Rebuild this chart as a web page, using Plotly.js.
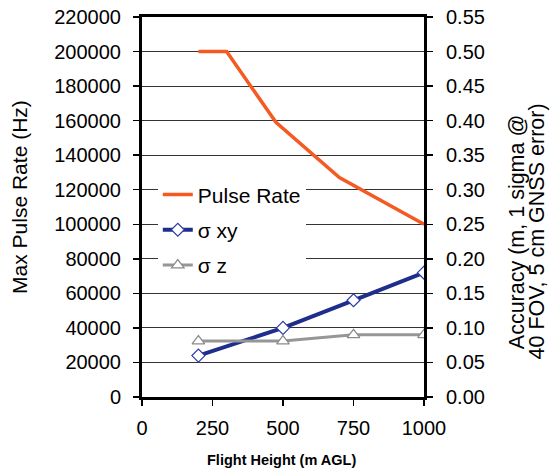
<!DOCTYPE html>
<html>
<head>
<meta charset="utf-8">
<script src="https://cdn.plot.ly/plotly-3.0.1.min.js"></script>
<style>
  html, body { margin: 0; padding: 0; background: #fff; }
  #chart { width: 554px; height: 473px; }
</style>
</head>
<body>
<div id="chart"></div>
<script>
// Data
const pulseHeights = [200, 300, 475, 700, 1000];
const pulseRate = [200000, 200000, 159000, 127000, 100000];
const accHeights = [200, 500, 750, 1000];
const sigmaXY = [0.06, 0.10, 0.14, 0.18];
const sigmaZ = [0.081, 0.081, 0.09, 0.09];
const xTicks = [0, 250, 500, 750, 1000];

const FONT = 'Liberation Sans, Arial, sans-serif';
const ORANGE = '#F55A23';
const BLUE = '#1F2E8C';
const GRAY = '#969696';

const traces = [
  {
    x: pulseHeights, y: pulseRate, name: 'Pulse Rate', type: 'scatter', mode: 'lines',
    line: { color: ORANGE, width: 3.5 }, yaxis: 'y', legendgroup: 'a'
  },
  {
    x: accHeights, y: sigmaXY, name: 'σ xy', type: 'scatter', mode: 'lines+markers',
    line: { color: BLUE, width: 4 },
    marker: { symbol: 'diamond', size: 10, color: '#ffffff', line: { color: '#2A3AAA', width: 1.2 } },
    yaxis: 'y2', legendgroup: 'b'
  },
  {
    x: accHeights, y: sigmaZ, name: 'σ z', type: 'scatter', mode: 'lines+markers',
    line: { color: GRAY, width: 3 },
    marker: { symbol: 'triangle-up', size: 11, color: '#ffffff', line: { color: '#8a8a8a', width: 1.2 } },
    yaxis: 'y2', legendgroup: 'c'
  }
];

const layout = {
  width: 554, height: 473,
  margin: { l: 142, r: 130, t: 17, b: 76 },
  paper_bgcolor: '#ffffff', plot_bgcolor: '#ffffff',
  font: { family: FONT, size: 20, color: '#000' },
  showlegend: true,
  legend: {
    x: 0.056, y: 0.586, xanchor: 'left', yanchor: 'top',
    bgcolor: '#ffffff', borderwidth: 0,
    font: { family: FONT, size: 21, color: '#000' },
    traceorder: 'grouped', tracegroupgap: 5
  },
  xaxis: {
    range: [0, 1000], tickvals: xTicks, ticktext: xTicks.map(String),
    showgrid: false, zeroline: false,
    showline: true, linewidth: 3, linecolor: '#000', mirror: true,
    ticks: 'outside', ticklen: 6, tickwidth: 1.5, tickcolor: '#000',
    ticklabelstandoff: 5,
    tickfont: { family: FONT, size: 20 }
  },
  yaxis: {
    range: [0, 220000], dtick: 20000, tickformat: 'd',
    showgrid: true, gridcolor: '#333', gridwidth: 1, zeroline: false,
    showline: true, linewidth: 3, linecolor: '#000',
    ticks: 'outside', ticklen: 6, tickwidth: 1.5, tickcolor: '#000',
    ticklabelstandoff: 8,
    tickfont: { family: FONT, size: 20 }
  },
  yaxis2: {
    overlaying: 'y', side: 'right',
    range: [0, 0.55], dtick: 0.05, tickformat: '.2f',
    showgrid: false, zeroline: false,
    showline: true, linewidth: 3, linecolor: '#000',
    ticks: 'outside', ticklen: 6, tickwidth: 1.5, tickcolor: '#000',
    ticklabelstandoff: 9,
    tickfont: { family: FONT, size: 20 }
  },
  annotations: [
    { text: 'Max Pulse Rate (Hz)', xref: 'paper', yref: 'paper', x: -0.434, y: 0.5255,
      xanchor: 'center', yanchor: 'middle', textangle: -90, showarrow: false,
      font: { family: FONT, size: 21, color: '#000' } },
    { text: 'Accuracy (m, 1 sigma @', xref: 'paper', yref: 'paper', x: 1.328, y: 0.435,
      xanchor: 'center', yanchor: 'middle', textangle: -90, showarrow: false,
      font: { family: FONT, size: 21.5, color: '#000' } },
    { text: '40 FOV, 5 cm GNSS error)', xref: 'paper', yref: 'paper', x: 1.400, y: 0.435,
      xanchor: 'center', yanchor: 'middle', textangle: -90, showarrow: false,
      font: { family: FONT, size: 21.5, color: '#000' } },
    { text: '<b>Flight Height (m AGL)</b>', xref: 'paper', yref: 'paper', x: 0.495, y: -0.167,
      xanchor: 'center', yanchor: 'middle', showarrow: false,
      font: { family: FONT, size: 14.5, color: '#000' } }
  ]
};

Plotly.newPlot('chart', traces, layout, { displayModeBar: false, staticPlot: true });
</script>
</body>
</html>
